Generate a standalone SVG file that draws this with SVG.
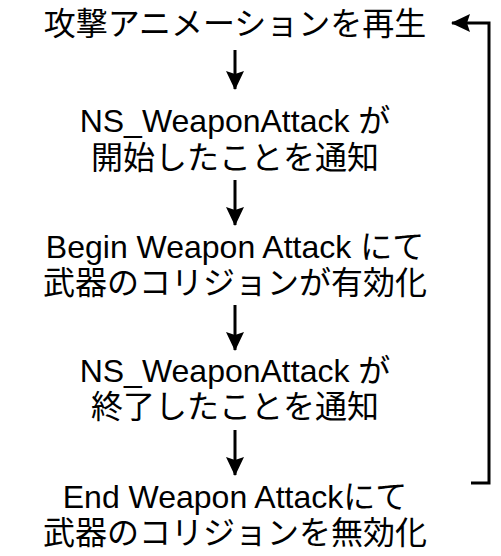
<svg xmlns="http://www.w3.org/2000/svg" width="501" height="556" viewBox="0 0 501 556">
<style>
text{font-family:"Liberation Sans","Noto Sans CJK JP",Arial,sans-serif;font-size:32px;fill:#000;text-anchor:middle}
.c{fill:none;stroke:#000;stroke-width:3}
</style>
<defs>
<marker id="ah" viewBox="0 0 19 18" refX="18" refY="9" markerWidth="19" markerHeight="18" markerUnits="userSpaceOnUse" orient="auto">
<path d="M0,0 L19,9 L0,18 L3,9 Z" fill="#000"/>
</marker>
</defs>
<rect width="501" height="556" fill="#fff"/>
<g id="n1"><text x="235" y="35">攻撃アニメーションを再生</text></g>
<g id="n2"><text x="235" y="132">NS_WeaponAttack が</text><text x="235" y="169">開始したことを通知</text></g>
<g id="n3"><text x="235" y="258">Begin Weapon Attack にて</text><text x="235" y="294">武器のコリジョンが有効化</text></g>
<g id="n4"><text x="235" y="382">NS_WeaponAttack が</text><text x="235" y="418">終了したことを通知</text></g>
<g id="n5"><text x="235" y="508">End Weapon Attackにて</text><text x="235" y="544">武器のコリジョンを無効化</text></g>
<g id="connectors">
<path class="c" d="M235,50 V89" marker-end="url(#ah)"/>
<path class="c" d="M235,180 V225" marker-end="url(#ah)"/>
<path class="c" d="M235,305 V350" marker-end="url(#ah)"/>
<path class="c" d="M235,430 V475" marker-end="url(#ah)"/>
<path class="c" d="M471,483 H489 V23 H452" marker-end="url(#ah)"/>
</g>
</svg>
